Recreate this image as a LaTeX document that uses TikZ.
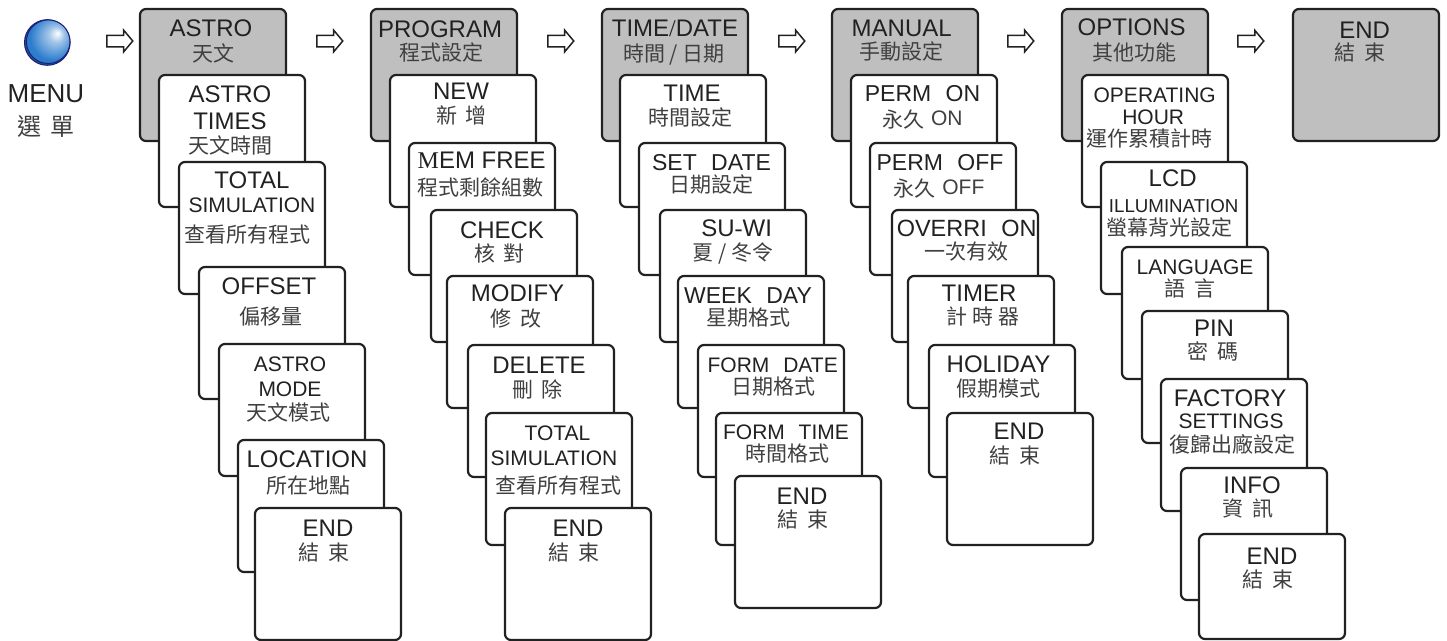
\documentclass[tikz,border=0pt]{standalone}
\usepackage{fontspec}
\setmainfont{Liberation Sans}
\newfontfamily\cjk{Noto Sans CJK TC}
\newfontfamily\thinfont{Liberation Serif}
\usetikzlibrary{shapes.arrows}
\definecolor{zhgray}{gray}{0.25}
\definecolor{greybox}{gray}{0.75}
\definecolor{linegray}{gray}{0.13}
\definecolor{ballblue}{RGB}{45,125,205}
\definecolor{balldark}{RGB}{30,30,120}
\newcommand{\zhtext}[1]{\raisebox{-2pt}{\cjk\fontsize{21}{25}\selectfont\color{zhgray}#1}}
\newcommand{\sz}[2]{{\fontsize{#1}{25}\selectfont #2}}
\newcommand{\wgap}{\kern8pt}
\newcommand{\zhgap}{\kern9pt}
\newcommand{\lead}[1]{\hspace*{#1pt}}
\pgfdeclareradialshading{menuball}{\pgfpoint{11bp}{10bp}}{color(0bp)=(white); color(9bp)=(ballblue!45!white); color(26bp)=(ballblue); color(50bp)=(ballblue)}
\tikzset{
  menubox/.style={draw=linegray,line width=2.2pt,rounded corners=6pt,fill=white,anchor=north west,outer sep=0pt,minimum width=146pt,minimum height=132pt,inner sep=0pt},
  topbox/.style={menubox,fill=greybox},
  boxtext/.style={anchor=north,align=center,inner sep=0pt,text=linegray,font=\fontsize{24}{25}\selectfont},
  nextarrow/.style={draw=linegray,line width=1.5pt,fill=white,single arrow,single arrow head extend=5pt,single arrow tip angle=100,single arrow head indent=0pt,minimum height=26pt,inner xsep=0pt,inner ysep=5pt,anchor=west}
}
\begin{document}
\begin{tikzpicture}[x=1pt,y=-1pt]
  \useasboundingbox (0,0) rectangle (1447,640);
  % menu ball
  \filldraw[fill=ballblue!70!black,draw=balldark,line width=1pt] (47.3,42.5) circle (22.8);
  \shade[shading=menuball,draw=balldark,line width=1pt] (48.2,41.7) circle (21.8);
  \node[boxtext] (menutext) at (46,84) {\sz{26}{MENU}\\[6pt]\raisebox{-2pt}{\cjk\fontsize{24}{25}\selectfont\color{zhgray}選\zhgap 單}};
  % astro
  \node[topbox] (astro) at (140,9) {};
  \node[boxtext] (astrotext) at (211,20) {ASTRO\\[-2.5pt]\lead{4}\zhtext{天文}};
  \node[menubox] (astrotimes) at (159,75) {};
  \node[boxtext] (astrotimestext) at (230,86) {ASTRO\\[1.5pt]TIMES\\[-3pt]\zhtext{天文時間}};
  \node[menubox] (astrosim) at (179,162) {};
  \node[boxtext] (astrosimtext) at (252,171.7) {TOTAL\\[-0.7pt]\sz{21}{SIMULATION}\\[3pt]\zhtext{查看所有程式}\kern10pt};
  \node[menubox] (offset) at (199,267) {};
  \node[boxtext] (offsettext) at (269,278) {OFFSET\\[3pt]\lead{3}\zhtext{偏移量}};
  \node[menubox] (astromode) at (219,344) {};
  \node[boxtext] (astromodetext) at (290,357) {\sz{21}{ASTRO}\\[-0.7pt]\sz{21}{MODE}\\[-3pt]\zhtext{天文模式}\kern3pt};
  \node[menubox] (location) at (238,440) {};
  \node[boxtext] (locationtext) at (307,450.7) {LOCATION\\[-1pt]\lead{3}\zhtext{所在地點}};
  \node[menubox] (astroend) at (255,508) {};
  \node[boxtext] (astroendtext) at (328,520) {END\\[-3pt]\zhtext{結\zhgap 束}\kern8pt};
  % program
  \node[topbox] (program) at (371,9) {};
  \node[boxtext] (programtext) at (440,20.7) {PROGRAM\\[-4.5pt]\lead{3}\zhtext{程式設定}};
  \node[menubox] (new) at (390,75) {};
  \node[boxtext] (newtext) at (461,82.7) {NEW\\[-2.5pt]\lead{1}\zhtext{新\zhgap 增}};
  \node[menubox] (memfree) at (409,143) {};
  \node[boxtext] (memfreetext) at (481.7,151.7) {{\thinfont M}EM FREE\\\zhtext{程式剩餘組數}\kern3pt};
  \node[menubox] (check) at (431,210) {};
  \node[boxtext] (checktext) at (502,221.7) {CHECK\\[-4pt]\zhtext{核\zhgap 對}\kern5pt};
  \node[menubox] (modify) at (447,276) {};
  \node[boxtext] (modifytext) at (517.5,285) {MODIFY\\[-2.5pt]\zhtext{修\zhgap 改}\kern3pt};
  \node[menubox] (delete) at (468,345) {};
  \node[boxtext] (deletetext) at (539,357) {DELETE\\[-3.5pt]\zhtext{刪\zhgap 除}\kern3pt};
  \node[menubox] (programsim) at (486,413) {};
  \node[boxtext] (programsimtext) at (556,426) {\lead{3}\sz{21}{TOTAL}\\[-0.7pt]\sz{21}{SIMULATION}\kern4pt\\[1.5pt]\lead{4}\zhtext{查看所有程式}};
  \node[menubox] (programend) at (505,508) {};
  \node[boxtext] (programendtext) at (578,520) {END\\[-3pt]\zhtext{結\zhgap 束}\kern8pt};
  % time and date
  \node[topbox] (timedate) at (602,9) {};
  \node[boxtext] (timedatetext) at (675,20) {TIME{\thinfont /}DATE\\[-2pt]\zhtext{時間 / 日期}\kern2pt};
  \node[menubox] (time) at (620,75) {};
  \node[boxtext] (timetext) at (692,84.3) {TIME\\[-3pt]\zhtext{時間設定}\kern3pt};
  \node[menubox] (setdate) at (639,143) {};
  \node[boxtext] (setdatetext) at (711.5,154) {\sz{23}{SET\wgap{} DATE}\\[-5pt]\zhtext{日期設定}};
  \node[menubox] (suwi) at (660,210) {};
  \node[boxtext] (suwitext) at (736.7,220) {SU{\thinfont -}WI\\[-3pt]\zhtext{夏 / 冬令}\kern7pt};
  \node[menubox] (weekday) at (678,276) {};
  \node[boxtext] (weekdaytext) at (748,287) {\sz{23}{WEEK\wgap{} DAY}\\[-5pt]\zhtext{星期格式}};
  \node[menubox] (formdate) at (698,345) {};
  \node[boxtext] (formdatetext) at (772.7,358) {\sz{21}{FORM\wgap{} DATE}\\[-5pt]\lead{1}\zhtext{日期格式}};
  \node[menubox] (formtime) at (716,413) {};
  \node[boxtext] (formtimetext) at (786,425) {\sz{21}{FORM\wgap{} TIME}\\[-5pt]\lead{2}\zhtext{時間格式}};
  \node[menubox] (timeend) at (735,476) {};
  \node[boxtext] (timeendtext) at (802,488) {END\\[-4.5pt]\lead{2}\zhtext{結\zhgap 束}};
  % manual
  \node[topbox] (manual) at (832,9) {};
  \node[boxtext] (manualtext) at (901.7,20) {MANUAL\\[-4pt]\zhtext{手動設定}};
  \node[menubox] (permon) at (851,75) {};
  \node[boxtext] (permontext) at (922.5,85) {\sz{23}{PERM\wgap{} ON}\\[-1pt]\zhtext{永久} {\color{zhgray}\sz{21}{ON}}};
  \node[menubox] (permoff) at (870,143) {};
  \node[boxtext] (permofftext) at (940,154.3) {\sz{23}{PERM\wgap{} OFF}\\[-1pt]\zhtext{永久} {\color{zhgray}\sz{21}{OFF}}\kern2pt};
  \node[menubox] (overrion) at (892,210) {};
  \node[boxtext] (overriontext) at (966.7,220) {\sz{23.5}{OVERRI\wgap{} ON}\\[-4pt]\zhtext{一次有效}};
  \node[menubox] (timer) at (908,276) {};
  \node[boxtext] (timertext) at (979,285) {TIMER\\[-4pt]\lead{7}\zhtext{計\kern5pt 時\kern5pt 器}};
  \node[menubox] (holiday) at (929,345) {};
  \node[boxtext] (holidaytext) at (998.5,356) {HOLIDAY\\[-3.5pt]\zhtext{假期模式}};
  \node[menubox] (manualend) at (947,413) {};
  \node[boxtext] (manualendtext) at (1019,423) {END\\[-3pt]\zhtext{結\zhgap 束}\kern8pt};
  % options
  \node[topbox] (options) at (1062,9) {};
  \node[boxtext] (optionstext) at (1131.7,18.3) {OPTIONS\\[-2pt]\lead{6}\zhtext{其他功能}};
  \node[menubox] (operating) at (1082,75) {};
  \node[boxtext] (operatingtext) at (1154.7,87.3) {\sz{21}{OPERATING}\\[-2.7pt]\sz{21}{HOUR}\kern3pt\\[-5pt]\zhtext{運作累積計時}\kern10pt};
  \node[menubox] (lcd) at (1101,162) {};
  \node[boxtext] (lcdtext) at (1172.7,169.3) {LCD\\[1.3pt]\lead{2}\sz{18.7}{ILLUMINATION}\\[-4pt]\zhtext{螢幕背光設定}\kern7pt};
  \node[menubox] (language) at (1122,247) {};
  \node[boxtext] (languagetext) at (1195,259.3) {\sz{21}{LANGUAGE}\\[-5pt]\zhtext{語\zhgap 言}\kern10pt};
  \node[menubox] (pin) at (1142,311) {};
  \node[boxtext] (pintext) at (1214,319.3) {PIN\\[-4pt]\zhtext{密\zhgap 碼}\kern2pt};
  \node[menubox] (factory) at (1161,379) {};
  \node[boxtext] (factorytext) at (1230,389.3) {FACTORY\\[-2.7pt]\lead{2}\sz{21}{SETTINGS}\\[-3.3pt]\lead{5}\zhtext{復歸出廠設定}};
  \node[menubox] (info) at (1181,468) {};
  \node[boxtext] (infotext) at (1252,476.7) {INFO\\[-4.5pt]\zhtext{資\zhgap 訊}\kern8pt};
  \node[menubox,minimum height=105pt] (optionsend) at (1199,534) {};
  \node[boxtext] (optionsendtext) at (1272,548) {END\\[-4.5pt]\zhtext{結\zhgap 束}\kern8pt};
  % last one
  \node[topbox] (lastend) at (1293,9) {};
  \node[boxtext] (lastendtext) at (1364.7,21.7) {END\\[-5pt]\zhtext{結\zhgap 束}\kern9pt};
  % arrows
  \node[nextarrow] (menunext) at (106,41) {};
  \node[nextarrow] (astronext) at (316,41) {};
  \node[nextarrow] (programnext) at (547,41) {};
  \node[nextarrow] (timenext) at (778,41) {};
  \node[nextarrow] (manualnext) at (1007,41) {};
  \node[nextarrow] (optionsnext) at (1237,41) {};
\end{tikzpicture}
\end{document}
